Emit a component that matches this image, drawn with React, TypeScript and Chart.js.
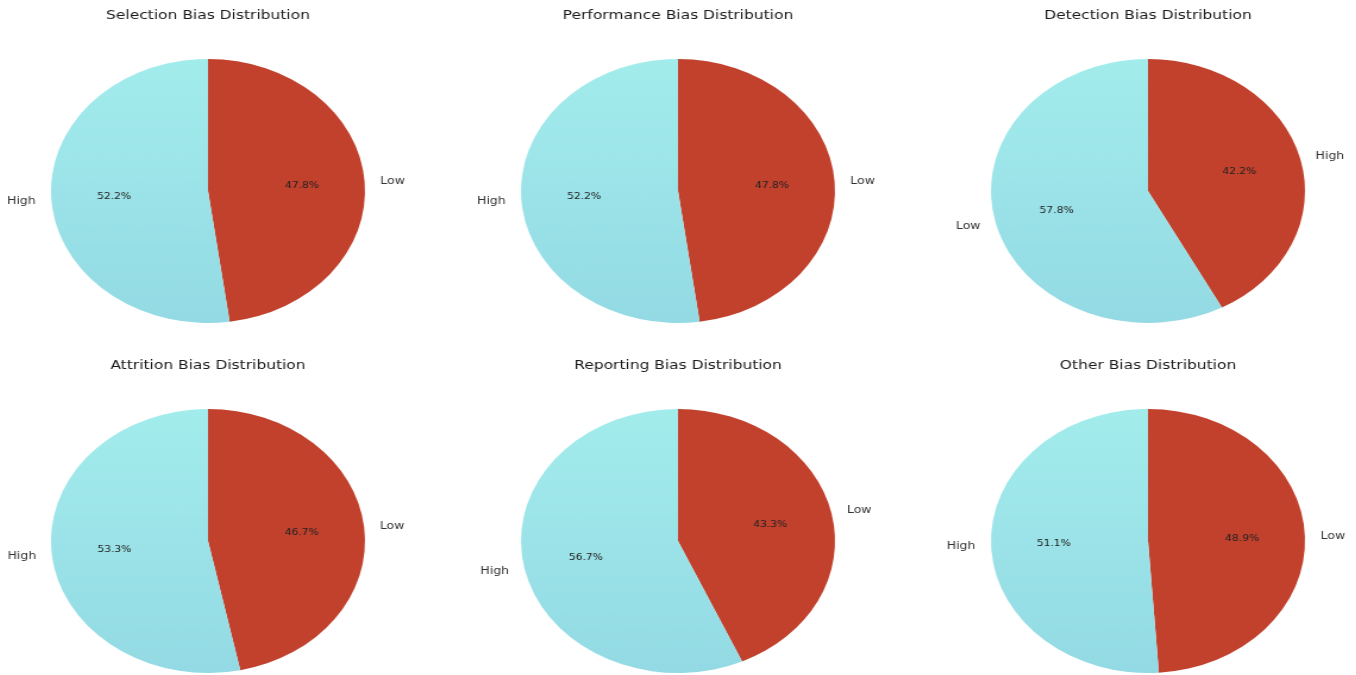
import React, { useEffect, useRef } from "react";
import { Chart, registerables } from "chart.js";

Chart.register(...registerables);

const titles = [
  "Selection Bias Distribution",
  "Performance Bias Distribution",
  "Detection Bias Distribution",
  "Attrition Bias Distribution",
  "Reporting Bias Distribution",
  "Other Bias Distribution",
];
const firstLabels = ["Low", "Low", "High", "Low", "Low", "Low"];
const secondLabels = ["High", "High", "Low", "High", "High", "High"];
const firstValues = [47.8, 47.8, 42.2, 46.7, 43.3, 48.9];
const secondValues = [52.2, 52.2, 57.8, 53.3, 56.7, 51.1];

const RED = "#C1412D";
const FONT = "'DejaVu Sans', 'Liberation Sans', sans-serif";

const DRAW_W = 380;
const DRAW_H = 337;
const CSS_W = 452;
const CSS_H = 337;
const centersX = [208, 678, 1148];
const rowTops = [0, 350];

const labelPlugin = {
  id: "pieLabels",
  afterDatasetsDraw(chart: any) {
    const ctx = chart.ctx;
    const meta = chart.getDatasetMeta(0);
    const ds = chart.data.datasets[0];
    const total = (ds.data as number[]).reduce((a, b) => a + b, 0);
    meta.data.forEach((arc: any, i: number) => {
      const { x, y, startAngle, endAngle, outerRadius } = arc.getProps(
        ["x", "y", "startAngle", "endAngle", "outerRadius"],
        true
      );
      const mid = (startAngle + endAngle) / 2;
      const c = Math.cos(mid);
      const s = Math.sin(mid);
      ctx.save();
      ctx.textBaseline = "middle";
      ctx.font = `10.5px ${FONT}`;
      ctx.fillStyle = "#333333";
      ctx.textAlign = c >= 0 ? "left" : "right";
      ctx.fillText(
        chart.data.labels[i],
        x + c * outerRadius * 1.1,
        y + s * outerRadius * 1.1
      );
      ctx.font = `9px ${FONT}`;
      ctx.fillStyle = "#222222";
      ctx.textAlign = "center";
      const pct = ((ds.data[i] as number) / total) * 100;
      ctx.fillText(
        pct.toFixed(1) + "%",
        x + c * outerRadius * 0.6,
        y + s * outerRadius * 0.6
      );
      ctx.restore();
    });
  },
};

function PieCell({ index }: { index: number }) {
  const ref = useRef<HTMLCanvasElement>(null);
  useEffect(() => {
    if (!ref.current) return;
    const chart = new Chart(ref.current, {
      type: "pie",
      data: {
        labels: [firstLabels[index], secondLabels[index]],
        datasets: [
          {
            data: [firstValues[index], secondValues[index]],
            backgroundColor: (c: any) => {
              if (c.dataIndex === 0) return RED;
              const area = c.chart.chartArea;
              if (!area) return "#9DE2E8";
              const g = c.chart.ctx.createLinearGradient(0, area.top, 0, area.bottom);
              g.addColorStop(0, "#A3ECEC");
              g.addColorStop(1, "#93DAE4");
              return g;
            },
            borderWidth: 0,
          },
        ],
      },
      options: {
        responsive: false,
        animation: false,
        devicePixelRatio: 1,
        events: [],
        layout: { padding: { top: 0, bottom: 14, left: 0, right: 0 } },
        plugins: {
          legend: { display: false },
          tooltip: { enabled: false },
          title: {
            display: true,
            text: titles[index],
            color: "#1a1a1a",
            font: { family: FONT, size: 13, weight: "normal" },
            padding: { top: 8, bottom: 35.4 },
          },
        },
      },
      plugins: [labelPlugin],
    });
    return () => chart.destroy();
  }, [index]);

  const col = index % 3;
  const row = Math.floor(index / 3);
  return (
    <canvas
      ref={ref}
      width={DRAW_W}
      height={DRAW_H}
      style={{
        position: "absolute",
        left: centersX[col] - CSS_W / 2 + "px",
        top: rowTops[row] + "px",
        width: CSS_W + "px",
        height: CSS_H + "px",
      }}
    />
  );
}

export default function App() {
  return (
    <div
      style={{
        position: "absolute",
        left: 0,
        top: 0,
        width: "1356px",
        height: "675px",
        overflow: "hidden",
        background: "#ffffff",
      }}
    >
      {titles.map((_, i) => (
        <PieCell key={i} index={i} />
      ))}
    </div>
  );
}
